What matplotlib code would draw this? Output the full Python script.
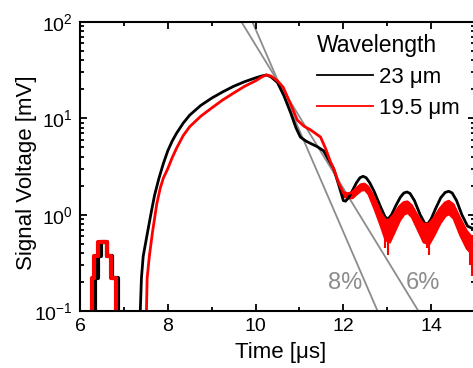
import numpy as np
import matplotlib
matplotlib.use('Agg')
import matplotlib.pyplot as plt
from matplotlib.ticker import LogLocator, MultipleLocator

plt.rcParams['font.family'] = ['Liberation Sans', 'DejaVu Sans']
plt.rcParams['mathtext.fontset'] = 'custom'
plt.rcParams['mathtext.rm'] = 'Liberation Sans'
plt.rcParams['mathtext.default'] = 'regular'

col_red = '#ff0000'
col_gray = '#8c8c8c'

# small pre-pulse (stepped, quantised)
pre_t_23 = [6.00, 6.35, 6.42, 6.48, 6.62, 6.72, 6.86]
pre_v_23 = [0.05, 0.22, 0.37, 0.52, 0.37, 0.22, 0.05]
pre_t_195 = [6.00, 6.27, 6.33, 6.42, 6.62, 6.70, 6.82]
pre_v_195 = [0.05, 0.22, 0.37, 0.52, 0.37, 0.22, 0.05]

# main pulse, 23 um
t_23 = [7.35, 7.40, 7.44, 7.55, 7.63, 7.70, 7.80, 7.90, 8.00, 8.10, 8.20, 8.35,
        8.50, 8.75, 9.00, 9.25, 9.50, 9.75, 10.00, 10.15, 10.25, 10.35, 10.50,
        10.65, 10.80, 10.92, 11.02, 11.15, 11.25, 11.40, 11.55, 11.65, 11.78,
        11.90, 12.00, 12.05, 12.12, 12.20, 12.30, 12.38, 12.45, 12.52, 12.60,
        12.70, 12.85, 12.95, 13.02, 13.10, 13.20, 13.30, 13.38, 13.45, 13.52,
        13.62, 13.75, 13.85, 13.92, 14.00, 14.10, 14.22, 14.32, 14.40, 14.48,
        14.58, 14.70, 14.83, 15.00]
v_23 = [0.05, 0.22, 0.37, 0.70, 1.10, 1.60, 2.40, 3.40, 4.60, 5.80, 7.00, 8.90,
        10.8, 13.6, 16.2, 18.8, 21.5, 24.0, 26.3, 27.6, 28.2, 27.0, 23.5,
        17.0, 11.4, 8.0, 6.4, 5.8, 5.5, 5.1, 4.6, 3.8, 3.0,
        2.0, 1.40, 1.38, 1.50, 1.75, 2.15, 2.42, 2.50, 2.42, 2.15,
        1.75, 1.20, 0.95, 0.90, 1.00, 1.25, 1.52, 1.68, 1.72, 1.66,
        1.40, 1.00, 0.82, 0.80, 0.90, 1.15, 1.50, 1.70, 1.75, 1.68,
        1.40, 1.00, 0.76, 0.70]

# main pulse, 19.5 um (rise + decay)
t_195 = [7.50, 7.53, 7.58, 7.65, 7.75, 7.83, 7.90, 8.00, 8.10, 8.20, 8.35,
         8.50, 8.75, 9.00, 9.25, 9.50, 9.75, 10.00, 10.15, 10.25, 10.35,
         10.50, 10.63, 10.80, 10.95, 11.10, 11.25, 11.48, 11.60, 11.70, 11.78,
         11.90, 12.00]
v_195 = [0.05, 0.22, 0.37, 0.65, 1.30, 1.90, 2.40, 3.00, 3.90, 4.90, 6.60,
         8.20, 10.5, 12.8, 15.5, 18.3, 21.5, 24.5, 27.0, 28.2, 27.5,
         24.5, 21.0, 14.0, 9.6, 8.3, 7.6, 6.4, 4.8, 3.6, 3.0,
         2.1, 1.7]

# noisy tail of 19.5 um trace: upper and lower envelope
tail_t_195 = [12.00, 12.10, 12.20, 12.30, 12.40, 12.48, 12.56, 12.70, 12.85,
              12.95, 13.05, 13.15, 13.28, 13.38, 13.46, 13.55, 13.70, 13.82,
              13.95, 14.05, 14.20, 14.32, 14.40, 14.50, 14.65, 14.80, 14.90,
              15.00]
tail_hi_195 = [1.70, 1.65, 1.70, 1.88, 2.05, 2.08, 1.95, 1.50, 1.05,
               0.88, 0.88, 1.00, 1.22, 1.34, 1.36, 1.25, 0.95, 0.80,
               0.80, 0.90, 1.15, 1.33, 1.38, 1.28, 0.92, 0.68, 0.60,
               0.58]
tail_lo_195 = [1.55, 1.50, 1.50, 1.65, 1.80, 1.82, 1.65, 1.15, 0.75,
               0.55, 0.52, 0.65, 0.88, 1.02, 1.05, 0.95, 0.68, 0.52,
               0.50, 0.60, 0.82, 0.98, 1.02, 0.92, 0.62, 0.45, 0.40,
               0.38]
spike_t_195 = [12.95, 13.01, 13.90, 13.95, 14.88, 14.93]
spike_lo_195 = [0.45, 0.38, 0.45, 0.38, 0.30, 0.23]
spike_hi_195 = [0.70, 0.70, 0.70, 0.70, 0.60, 0.60]

# exponential decay guides (time at 100 mV and at 0.1 mV)
fit_t_8 = [9.93, 12.78]
fit_t_6 = [9.68, 13.71]
fit_v = [100, 0.1]

fig = plt.figure(figsize=(4.73, 3.68), dpi=100)
ax = fig.add_axes([80 / 473, 1 - 311 / 368, 395 / 473, 289 / 368])

ax.plot(fit_t_8, fit_v, color=col_gray, lw=1.3, zorder=1)
ax.plot(fit_t_6, fit_v, color=col_gray, lw=1.3, zorder=1)

ax.plot(pre_t_23, pre_v_23, color='k', lw=3.0, drawstyle='steps-post')
ax.plot(t_23, v_23, color='k', lw=2.0, label='23 \u03bcm')

ax.plot(pre_t_195, pre_v_195, color=col_red, lw=3.0, drawstyle='steps-post')
ax.plot(t_195, v_195, color=col_red, lw=2.0, label='19.5 \u03bcm')
ax.fill_between(tail_t_195, tail_lo_195, tail_hi_195, color=col_red, lw=1.5)
ax.plot(tail_t_195, tail_hi_195, color=col_red, lw=2.0)
ax.vlines(spike_t_195, spike_lo_195, spike_hi_195, color=col_red, lw=1.5)

ax.text(12.05, 0.195, '8%', color=col_gray, fontsize=17, ha='center', va='center')
ax.text(13.81, 0.195, '6%', color=col_gray, fontsize=17, ha='center', va='center')

ax.set_yscale('log')
ax.set_xlim(6, 15)
ax.set_ylim(0.1, 100)
ax.xaxis.set_major_locator(MultipleLocator(2))
ax.xaxis.set_minor_locator(MultipleLocator(1))
ax.yaxis.set_major_locator(LogLocator(base=10))
ax.yaxis.set_minor_locator(LogLocator(base=10, subs=np.arange(2, 10)))

for s in ax.spines.values():
    s.set_linewidth(1.5)
ax.tick_params(which='both', direction='in', top=True, right=True, width=1.3, labelsize=14)
ax.tick_params(which='major', length=5, pad=5)
ax.tick_params(which='minor', length=3)

ax.set_xlabel('Time [\u03bcs]', fontsize=16)
ax.set_ylabel('Signal Voltage [mV]', fontsize=16)
ax.xaxis.set_label_coords(0.509, -0.108)
ax.yaxis.set_label_coords(-0.108, 0.48)

leg = ax.legend(title='Wavelength', frameon=False, fontsize=16, title_fontsize=16.5,
                loc='upper left', bbox_to_anchor=(0.6, 0.96), borderpad=0,
                borderaxespad=0, handlelength=2.5, handletextpad=0.3,
                labelspacing=0.45, alignment='left')
for h in leg.legend_handles:
    h.set_linewidth(1.3)

fig.savefig('out.png', dpi=100)
